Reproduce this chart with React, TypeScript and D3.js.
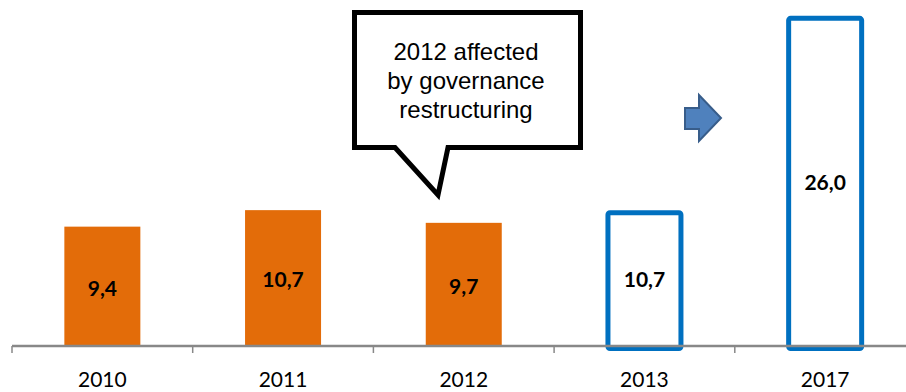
import React from "react";
import * as d3 from "d3";

const years = ["2010", "2011", "2012", "2013", "2017"];
const values = [9.4, 10.7, 9.7, 10.7, 26.0];
const labels = ["9,4", "10,7", "9,7", "10,7", "26,0"];
const kinds = ["actual", "actual", "actual", "target", "target"];
const calloutLines = ["2012 affected", "by governance", "restructuring"];

const W = 906;
const H = 392;

export default function App() {
  const x = d3.scaleBand<string>().domain(years).range([12, 915.5]).padding(0);
  const y = d3.scaleLinear().domain([0, 27.25]).range([346, 0]);
  const bw = x.bandwidth();
  const tickXs = years.map((yr) => x(yr) as number);

  // callout geometry
  const bx0 = 354.5, bx1 = 580.5, by0 = 12.5, by1 = 147.5;
  const callout = `M${bx0},${by0}H${bx1}V${by1}H448L438,195L395,${by1}H${bx0}Z`;
  // arrow
  const arrow = "M685,108H699V95L721,118L699,141V129H685Z";

  return (
    <svg width={W} height={H} style={{ position: "absolute", left: 0, top: 0 }}>
      {years.map((yr, i) => {
        const cx = (x(yr) as number) + bw / 2;
        const top = y(values[i]);
        const base = y(0);
        if (kinds[i] === "actual") {
          const w = 76;
          return (
            <rect key={yr} x={cx - w / 2} y={top} width={w} height={base - top} fill="#E36C09" />
          );
        }
        const w = 73;
        return (
          <rect
            key={yr}
            x={cx - w / 2}
            y={top + 2.5}
            width={w}
            height={base - top}
            fill="#fff"
            stroke="#0070C0"
            strokeWidth={5}
            rx={2}
          />
        );
      })}
      {years.map((yr, i) => {
        const cx = (x(yr) as number) + bw / 2;
        const mid = (y(values[i]) + y(0)) / 2;
        return (
          <text
            key={"l" + yr}
            x={cx}
            y={mid + 4}
            textAnchor="middle"
            dominantBaseline="middle"
            fontFamily="Lato, 'Open Sans', sans-serif"
            fontWeight="bold"
            fontSize={21}
            fill="#000"
          >
            {labels[i]}
          </text>
        );
      })}
      <line x1={12} x2={906} y1={346} y2={346} stroke="#888" strokeWidth={2.5} />
      {tickXs.map((tx, i) => (
        <line key={"t" + i} x1={tx} x2={tx} y1={346} y2={353} stroke="#888" strokeWidth={1.5} />
      ))}
      {years.map((yr) => (
        <text
          key={"x" + yr}
          x={(x(yr) as number) + bw / 2}
          y={387}
          textAnchor="middle"
          fontFamily="Lato, 'Open Sans', sans-serif"
          fontSize={21}
          fill="#000"
        >
          {yr}
        </text>
      ))}
      <path d={callout} fill="#fff" stroke="#000" strokeWidth={5} strokeLinejoin="miter" />
      {calloutLines.map((t, i) => (
        <text
          key={"c" + i}
          x={466}
          y={60 + i * 29}
          textAnchor="middle"
          fontFamily="'Liberation Sans', Arial, sans-serif"
          fontSize={24}
          fill="#000"
        >
          {t}
        </text>
      ))}
      <path d={arrow} fill="#4F81BD" stroke="#385D8A" strokeWidth={2} />
    </svg>
  );
}
